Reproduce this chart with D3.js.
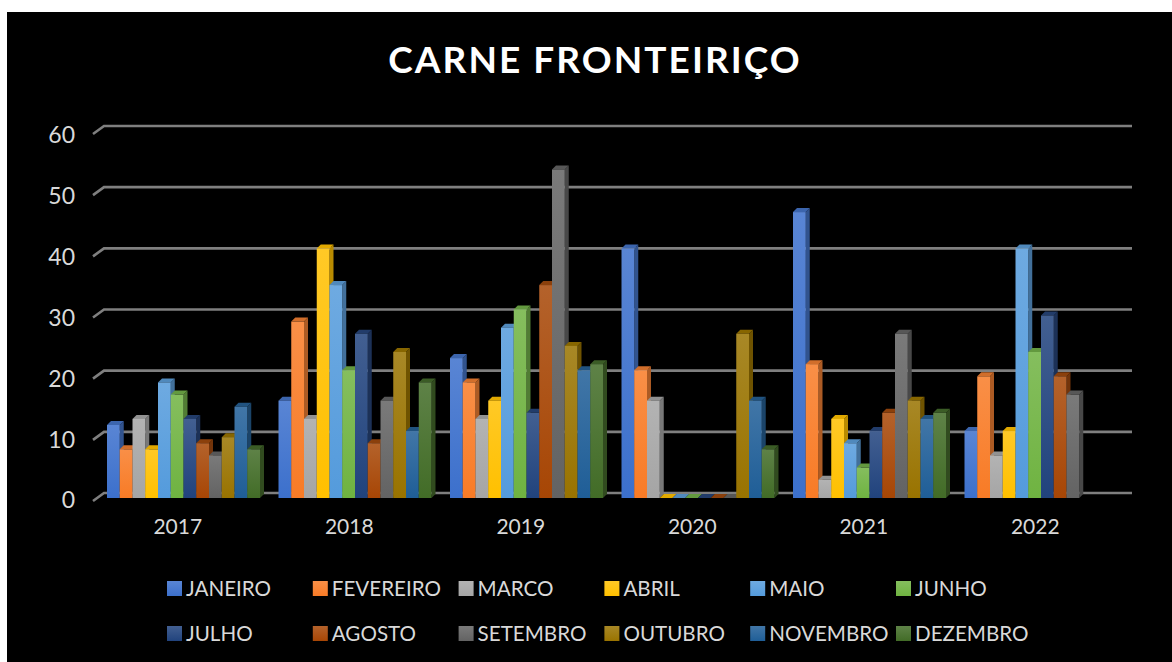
<!DOCTYPE html>
<html>
<head>
<meta charset="utf-8">
<script src="https://cdn.jsdelivr.net/npm/d3@7"></script>
<style>
    html, body { margin:0; padding:0; background:#fff; overflow:hidden; }
    svg { display:block; }
    text { font-family: Lato, "Open Sans", sans-serif; fill:#d9d9d9; }
</style>
</head>
<body>
<svg id="chart" width="1172" height="662"></svg>
<script>
var years = ["2017","2018","2019","2020","2021","2022"];
var months = ["JANEIRO","FEVEREIRO","MARCO","ABRIL","MAIO","JUNHO","JULHO","AGOSTO","SETEMBRO","OUTUBRO","NOVEMBRO","DEZEMBRO"];
var colors = ["#4472c4","#ed7d31","#a5a5a5","#ffc000","#5b9bd5","#70ad47","#264478","#9e480e","#636363","#997300","#255e91","#43682b"];
var yTicks = [0,10,20,30,40,50,60];

// one list per month, one value per year (null = no bar)
var janeiro   = [12,16,23,41,47,11];
var fevereiro = [8,29,19,21,22,20];
var marco     = [13,13,13,16,3,7];
var abril     = [8,41,16,0,13,11];
var maio      = [19,35,28,0,9,41];
var junho     = [17,21,31,0,5,24];
var julho     = [13,27,14,0,11,30];
var agosto    = [9,9,35,0,14,20];
var setembro  = [7,16,54,0,27,17];
var outubro   = [10,24,25,27,16,null];
var novembro  = [15,11,21,16,13,null];
var dezembro  = [8,19,22,8,14,null];
var series = [janeiro,fevereiro,marco,abril,maio,junho,julho,agosto,setembro,outubro,novembro,dezembro];

var svg = d3.select("#chart");
var depthX = 4, depthY = 4;

svg.append("rect")
    .attr("x",7).attr("y",12)
    .attr("width",1165).attr("height",650)
    .attr("fill","#000");

function saturated(c){
    var h = d3.hsl(c);
    h.s = Math.min(1,h.s*1.12);
    return h.formatHex();
}

var defs = svg.append("defs");
colors.forEach(function(c,i){
    var g = defs.append("linearGradient")
        .attr("id","grad"+i)
        .attr("x1",0).attr("y1",0).attr("x2",0).attr("y2",1);
    g.append("stop").attr("offset","0%").attr("stop-color",d3.interpolateRgb(saturated(c),"#fff")(0.15));
    g.append("stop").attr("offset","100%").attr("stop-color",saturated(c));
});

var x0 = d3.scaleBand().domain(years).range([93,1122]).paddingInner(0).paddingOuter(0);
var x1 = d3.scaleBand().domain(d3.range(months.length)).range([14,167]);
var y = d3.scaleLinear().domain([0,60]).range([498,133]);
var yBack = d3.scaleLinear().domain([0,60]).range([493,126]);

// back wall
var grid = svg.append("g").attr("class","grid")
    .attr("fill","none").attr("stroke","#7f7f7f").attr("stroke-width",2.6);
grid.selectAll("path")
    .data(yTicks)
    .enter()
    .append("path")
    .attr("d",function(d){
        return "M93," + (yBack(d)+8) + "L104," + yBack(d) + "L1132," + yBack(d);
    });

// value axis
var yAxis = d3.axisLeft(y).tickValues(yTicks).tickSize(0).tickPadding(0);
var yg = svg.append("g")
    .attr("transform","translate(75,2.5)")
    .call(yAxis);
yg.select(".domain").remove();
yg.selectAll("text").attr("font-size",23).style("fill","#d9d9d9");

// category axis
var xAxis = d3.axisBottom(x0).tickSize(0).tickPadding(0);
var xg = svg.append("g")
    .attr("transform","translate(-1,519)")
    .call(xAxis);
xg.select(".domain").remove();
xg.selectAll("text").attr("font-size",21).style("fill","#d9d9d9");

// bars, left to right so each front face covers the side of the previous one
var groups = svg.selectAll("g.year")
    .data(years)
    .enter()
    .append("g")
    .attr("class","year")
    .attr("transform",function(d){ return "translate(" + x0(d) + ",0)"; });

groups.each(function(yr,yi){
    var g = d3.select(this);
    months.forEach(function(m,mi){
        var v = series[mi][yi];
        if ( v === null ) return;
        var l = x1(mi), w = x1.bandwidth(), top = y(v), base = y(0);
        var c = d3.color(colors[mi]);

        g.append("polygon")
            .attr("points",[[l+w,top],[l+w+depthX,top-depthY],[l+w+depthX,base-depthY],[l+w,base]].join(" "))
            .attr("fill",c.darker(0.9));
        g.append("polygon")
            .attr("points",[[l,top],[l+depthX,top-depthY],[l+w+depthX,top-depthY],[l+w,top]].join(" "))
            .attr("fill",c.darker(0.35));
        if ( v > 0 ){
            g.append("rect")
                .attr("x",l).attr("y",top)
                .attr("width",w).attr("height",base-top)
                .attr("fill","url(#grad"+mi+")");
        }
    });
});

// title
svg.append("text")
    .attr("x",595).attr("y",73)
    .attr("text-anchor","middle")
    .attr("font-size",37)
    .attr("font-weight",700)
    .attr("letter-spacing",2.05)
    .style("fill","#fff")
    .text("CARNE FRONTEIRIÇO");

// legend
var legendCol = d3.scalePoint().domain(d3.range(6)).range([167,896]);
var legendRow = d3.scalePoint().domain([0,1]).range([588,633]);
var legend = svg.selectAll("g.legend")
    .data(months)
    .enter()
    .append("g")
    .attr("class","legend")
    .attr("transform",function(d,i){
        return "translate(" + legendCol(i%6) + "," + legendRow(Math.floor(i/6)) + ")";
    });
legend.append("rect")
    .attr("x",0).attr("y",-7)
    .attr("width",15).attr("height",15)
    .attr("fill",function(d,i){ return "url(#grad"+i+")"; });
legend.append("text")
    .attr("x",19).attr("y",7.5)
    .attr("font-size",20.6)
    .style("fill","#d9d9d9")
    .text(function(d){ return d; });
</script>
</body>
</html>
